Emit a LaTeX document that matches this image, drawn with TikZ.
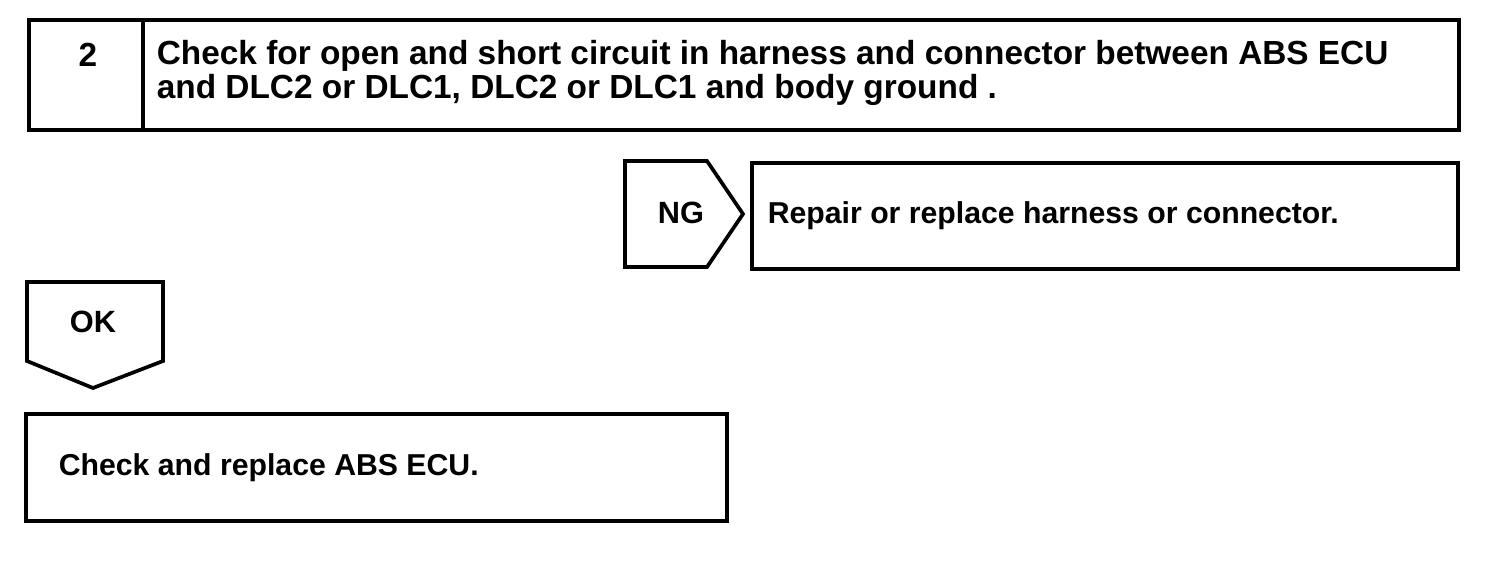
\documentclass[tikz,border=0pt]{standalone}
\usepackage{fontspec}
\setmainfont{Liberation Sans}
\usetikzlibrary{positioning}

\begin{document}
\begin{tikzpicture}[x=0.02cm,y=-0.02cm,line width=2.1pt,
  every node/.style={inner sep=0pt},
  steptext/.style={anchor=north west,align=left,font=\fontsize{19}{19.9}\bfseries\selectfont},
  boxtext/.style={anchor=base west,font=\fontsize{17.2}{20}\bfseries\selectfont},
  tagtext/.style={font=\fontsize{17.5}{20}\bfseries\selectfont}]
\useasboundingbox (0,0) rectangle (1504,578);
\draw (29,20) rectangle (1459,130);
\draw (143,20) -- (143,130);
\node[tagtext,font=\fontsize{19}{20}\bfseries\selectfont] (num) at (88,55) {2};
\node[steptext] (check) at (155,38) {Check for open and short circuit in harness and connector between ABS ECU\\and DLC2 or DLC1, DLC2 or DLC1 and body ground .};
\draw (625,161) -- (707,161) -- (743,214) -- (707,267) -- (625,267) -- cycle;
\node[tagtext] (ng) at (681,213) {NG};
\draw (752,163) rectangle (1458,269);
\node[boxtext] (repair) at (766,223) {Repair or replace harness or connector.};
\draw (27,282) -- (163,282) -- (163,361) -- (93,388) -- (27,361) -- cycle;
\node[tagtext] (ok) at (93,322) {OK};
\draw (26,414) rectangle (727,521);
\node[boxtext] (ecu) at (57,475) {Check and replace ABS ECU.};
\end{tikzpicture}
\end{document}
